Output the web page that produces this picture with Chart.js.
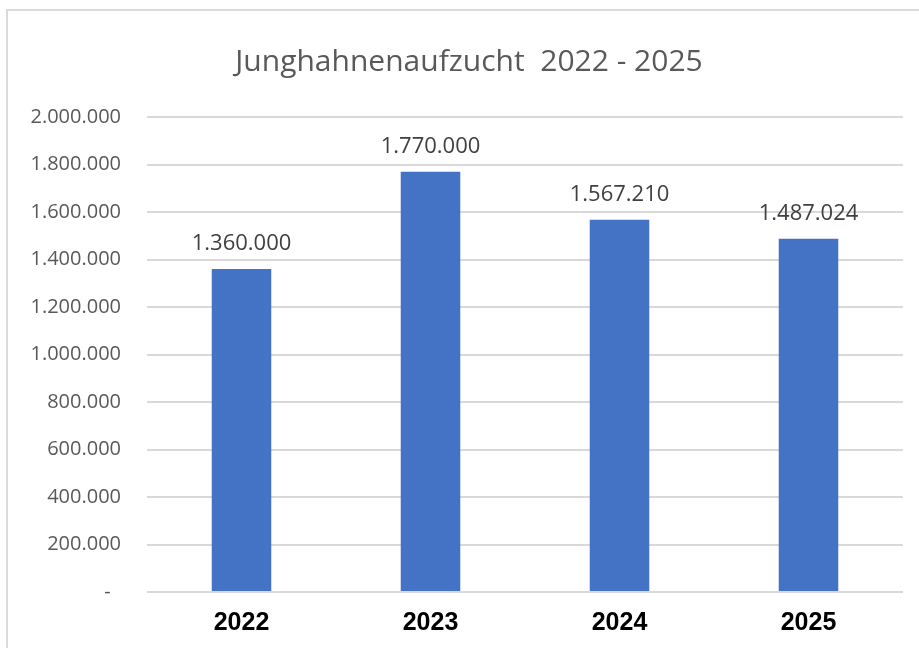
<!DOCTYPE html>
<html>
<head>
<meta charset="utf-8">
<script src="https://cdn.jsdelivr.net/npm/chart.js@4/dist/chart.umd.min.js"></script>
<style>
  html, body { margin: 0; padding: 0; background: #fff; overflow: hidden; }
  #frame { position: absolute; left: 6px; top: 9px; width: 940px; height: 660px;
           border-left: 2px solid #dadada; border-top: 2px solid #dadada; }
  #wrap { position: absolute; left: 0; top: 0; width: 919px; height: 648px; }
</style>
</head>
<body>
<div id="frame"></div>
<div id="wrap"><canvas id="chartCanvas" width="919" height="648"></canvas></div>
<script>
const years = ["2022", "2023", "2024", "2025"];
const hens = [1360000, 1770000, 1567210, 1487024];
const yMax = 2000000;
const yStep = 200000;
const title = "Junghahnenaufzucht  2022 - 2025";

function fmt(v) {
    if (v === 0) return "-\u00a0\u00a0";
    return String(v).replace(/\B(?=(\d{3})+(?!\d))/g, ".");
}

// title, centred on the whole frame (which runs past the window)
const titlePlugin = {
    id: "titlePlugin",
    afterDraw(chart) {
        const ctx = chart.ctx;
        ctx.save();
        ctx.font = "30px 'Open Sans'";
        ctx.fillStyle = "#595959";
        ctx.textAlign = "center";
        ctx.textBaseline = "middle";
        ctx.fillText(title, 469, 62);
        ctx.restore();
    }
};

// value labels above the bars
const barLabels = {
    id: "barLabels",
    afterDatasetsDraw(chart) {
        const ctx = chart.ctx;
        ctx.save();
        ctx.font = "22px 'Open Sans'";
        ctx.fillStyle = "#404040";
        ctx.textAlign = "center";
        ctx.textBaseline = "alphabetic";
        chart.getDatasetMeta(0).data.forEach((bar, i) => {
            ctx.fillText(fmt(hens[i]), bar.x, bar.y - 19);
        });
        ctx.restore();
    }
};

const chart = new Chart(chartCanvas, {
    type: "bar",
    data: {
        labels: years,
        datasets: [{
            data: hens,
            backgroundColor: "#4472C4",
            barPercentage: 0.63,
            categoryPercentage: 0.5
        }]
    },
    options: {
        responsive: false,
        animation: false,
        layout: { padding: { left: 0, right: 16, top: 117, bottom: 0 } },
        plugins: {
            legend: { display: false },
            tooltip: { enabled: false },
            title: { display: false }
        },
        scales: {
            x: {
                afterFit(scale) { scale.height = 56; },
                grid: { display: false, drawTicks: false },
                border: { display: false },
                ticks: {
                    color: "#000",
                    padding: 16,
                    font: { family: "'Liberation Sans'", size: 25, weight: "bold" }
                }
            },
            y: {
                min: 0,
                max: yMax,
                afterFit(scale) { scale.width = 147; },
                border: { display: false },
                grid: { color: "#d9d9d9", lineWidth: 2, drawTicks: false },
                ticks: {
                    stepSize: yStep,
                    padding: 26,
                    color: "#595959",
                    font: { family: "'Open Sans'", size: 20 },
                    callback: v => fmt(v)
                }
            }
        }
    },
    plugins: [barLabels, titlePlugin]
});
</script>
</body>
</html>
